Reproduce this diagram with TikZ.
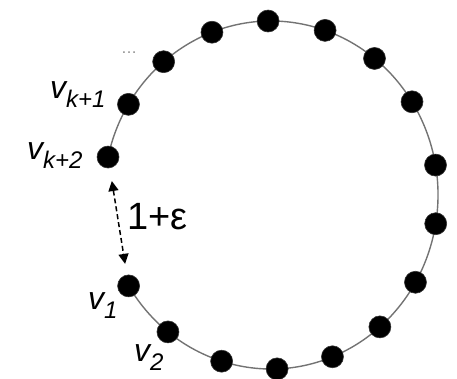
\documentclass[tikz,border=0pt]{standalone}
\usepackage{fontspec}
\setmainfont{Liberation Sans}
\usetikzlibrary{arrows.meta}
\tikzset{
  dot/.style={circle,fill=black,draw=black!80,line width=0.6pt,minimum size=22pt,inner sep=0pt},
  ring/.style={draw=black!55,line width=1.4pt},
  lab/.style={anchor=base west,inner sep=0pt,font=\fontsize{32}{32}\selectfont\itshape},
  gap/.style={dashed,dash pattern=on 5pt off 3pt,line width=1.5pt,{Triangle[length=10pt,width=10pt]}-{Triangle[length=10pt,width=10pt]}}
}
\newcommand{\mysub}[1]{{\fontsize{24}{24}\selectfont\itshape\raisebox{-9pt}{#1}}}
\begin{document}
\begin{tikzpicture}[x=1pt,y=1pt]
\useasboundingbox (0,0) rectangle (457,379);
\def\cx{271}\def\cy{184}\def\rx{167}\def\ry{174}
% ring
\draw[ring] ({\cx+\rx*cos(167.4)},{\cy+\ry*sin(167.4)}) arc[start angle=167.4,end angle=-148.5,x radius=\rx,y radius=\ry];
% dots
\foreach \t [count=\i] in {91,71.1,51.7,32.4,9.9,-9.5,-30.1,-49.3,-68.4,-87.9,-107.2,130,110.7}
  \node[dot] (p\i) at ({\cx+\rx*cos(\t)},{\cy+\ry*sin(\t)}) {};
\node[dot] (v2) at ({\cx+\rx*cos(-128.1)},{\cy+\ry*sin(-128.1)}) {};
\node[dot] (v1) at ({\cx+\rx*cos(-148.5)},{\cy+\ry*sin(-148.5)}) {};
\node[dot] (vk2) at ({\cx+\rx*cos(167.4)},{\cy+\ry*sin(167.4)}) {};
\node[dot] (vk1) at ({\cx+\rx*cos(148.6)},{\cy+\ry*sin(148.6)}) {};
% gap arrow
\draw[gap,shorten <=13pt,shorten >=11pt] (vk2) -- (v1);
% labels
\node[lab] (lk1) at (50,280) {v\mysub{k+1}};
\node[lab] (lk2) at (27,219) {v\mysub{k+2}};
\node[lab] (l1) at (88,69) {v\mysub{1}};
\node[lab] (l2) at (134,17) {v\mysub{2}};
\node[anchor=base west,inner sep=0pt,font=\fontsize{38}{38}\selectfont] (eps) at (127,149) {1+ε};
\node[inner sep=0pt,text=black!45,font=\fontsize{16}{16}\selectfont] (dots) at (129,326) {\textellipsis};
\end{tikzpicture}
\end{document}
